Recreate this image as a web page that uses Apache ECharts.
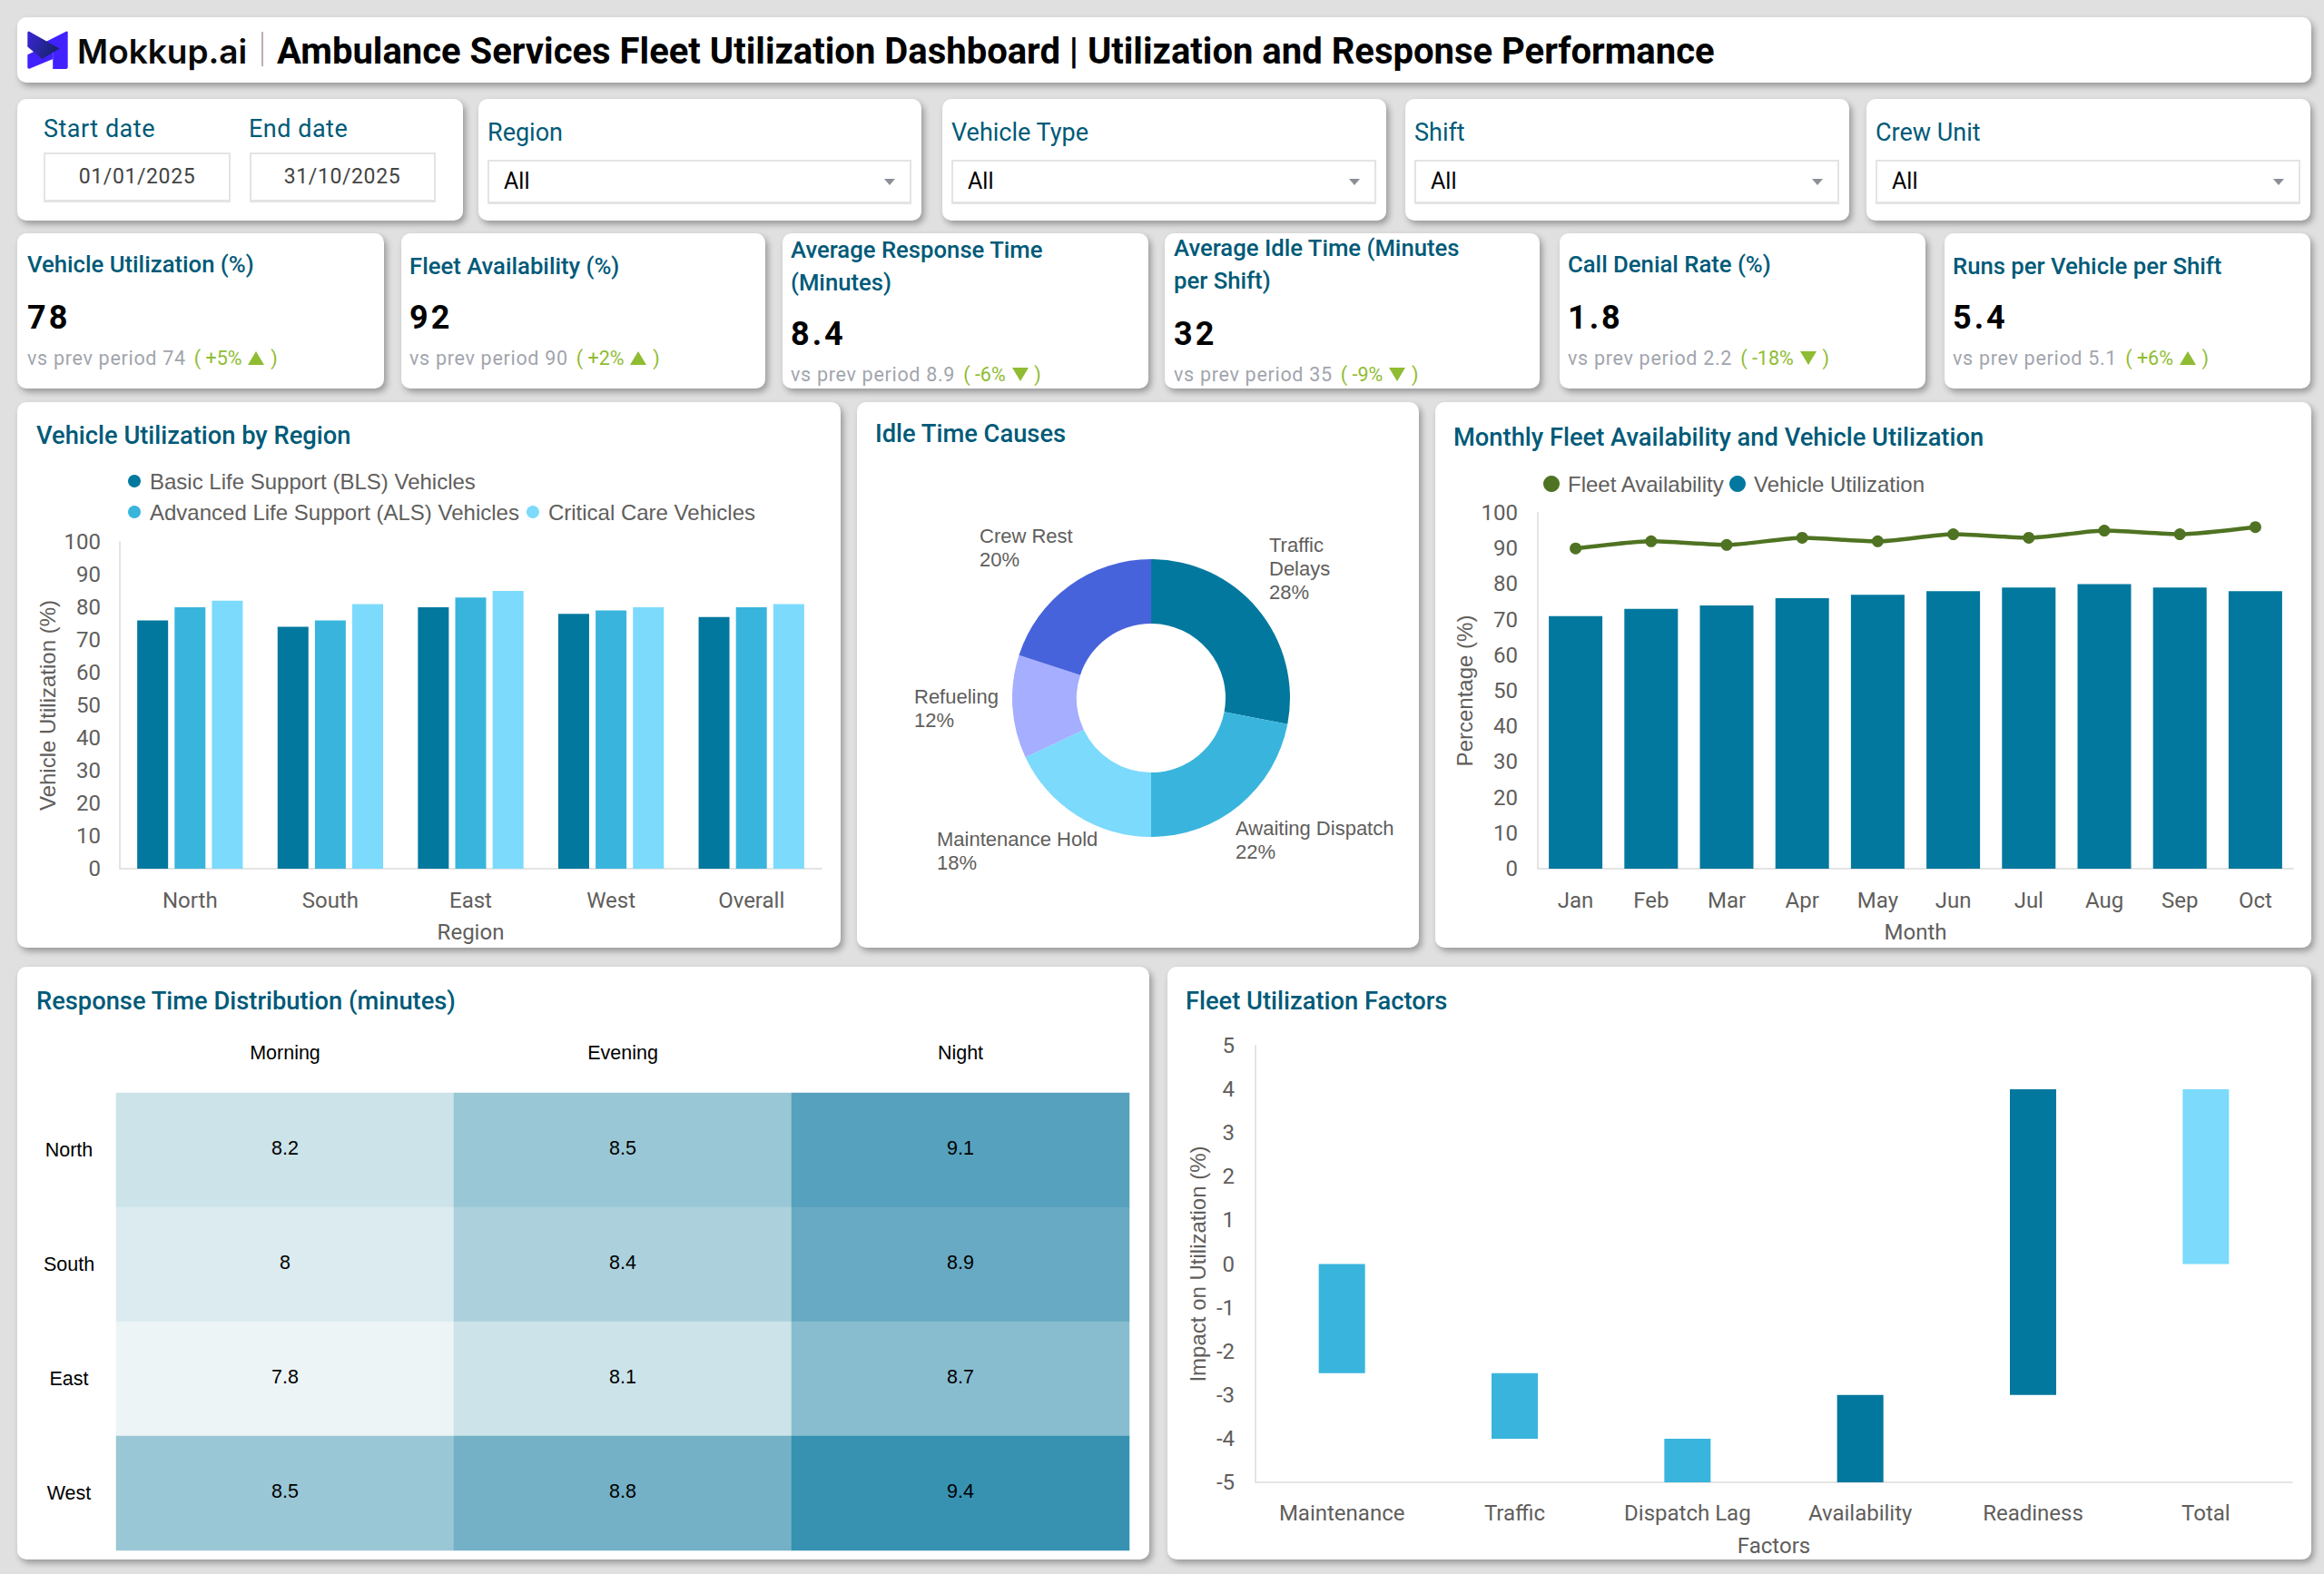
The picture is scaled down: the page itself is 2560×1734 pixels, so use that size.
<!DOCTYPE html>
<html>
<head>
<meta charset="utf-8">
<title>Ambulance Services Fleet Utilization Dashboard</title>
<script src="https://cdn.jsdelivr.net/npm/echarts@6/dist/echarts.min.js"></script>
<style>
  html, body { margin: 0; padding: 0; }
  body { width: 2560px; height: 1734px; background: #e0e0e0; overflow: hidden; position: relative; font-family: Roboto, sans-serif; }
  .card { position: absolute; background: #fff; border-radius: 10px; box-shadow: 3px 4px 7px rgba(0,0,0,.32); }
  .t { position: absolute; white-space: nowrap; transform: translateY(-50%); line-height: 1.2; }
  .title { color: #005a78; font-size: 27.3px; font-weight: 500; }
  .kpi-title { color: #005a78; font-size: 25.7px; font-weight: 500; }
  .kpi-value { color: #000; font-size: 36px; font-weight: 700; letter-spacing: 3px; }
  .kpi-sub { color: #a1a5ad; font-size: 21.5px; letter-spacing: .7px; }
  .kpi-sub b { color: #8fbc32; font-weight: 400; margin-left: 3px; letter-spacing: 0; }
  .tri { display: inline-block; width: 0; height: 0; margin: 0 1.5px; border-left: 9px solid transparent; border-right: 9px solid transparent; }
  .tri.up { border-bottom: 15px solid #8fbc32; }
  .tri.down { border-top: 15px solid #8fbc32; }
  .filter-label { color: #005a78; font-size: 27px; }
  .date-label { letter-spacing: .5px; }
  .box { position: absolute; box-sizing: border-box; background: #fff; border: 2px solid #e4e4e4; border-bottom-width: 3px; }
  .date-text { color: #444; font-size: 23px; letter-spacing: .6px; text-align: center; transform: translate(-50%,-50%); }
  .arrow { position: absolute; width: 0; height: 0; border-left: 6px solid transparent; border-right: 6px solid transparent; border-top: 7px solid #8b8f96; }
  .chart { position: absolute; }
</style>
</head>
<body>
<script>
// --- data ---
var filterNames = ['Region', 'Vehicle Type', 'Shift', 'Crew Unit'];
var startDate = '01/01/2025';
var endDate = '31/10/2025';

var kpiTitles = [
  ['Vehicle Utilization (%)'],
  ['Fleet Availability (%)'],
  ['Average Response Time', '(Minutes)'],
  ['Average Idle Time (Minutes', 'per Shift)'],
  ['Call Denial Rate (%)'],
  ['Runs per Vehicle per Shift']
];
var kpiValues = ['78', '92', '8.4', '32', '1.8', '5.4'];
var kpiPrev = ['74', '90', '8.9', '35', '2.2', '5.1'];
var kpiDelta = ['+5%', '+2%', '-6%', '-9%', '-18%', '+6%'];

var regions = ['North', 'South', 'East', 'West', 'Overall'];
var blsValues = [76, 74, 80, 78, 77];
var alsValues = [80, 76, 83, 79, 80];
var criticalValues = [82, 81, 85, 80, 81];

var idleCauses = ['Traffic Delays', 'Awaiting Dispatch', 'Maintenance Hold', 'Refueling', 'Crew Rest'];
var idleShares = [28, 22, 18, 12, 20];

var months = ['Jan', 'Feb', 'Mar', 'Apr', 'May', 'Jun', 'Jul', 'Aug', 'Sep', 'Oct'];
var fleetAvailability = [90, 92, 91, 93, 92, 94, 93, 95, 94, 96];
var vehicleUtilization = [71, 73, 74, 76, 77, 78, 79, 80, 79, 78];

var shifts = ['Morning', 'Evening', 'Night'];
var heatRegions = ['North', 'South', 'East', 'West'];
var morningTimes = [8.2, 8, 7.8, 8.5];
var eveningTimes = [8.5, 8.4, 8.1, 8.8];
var nightTimes = [9.1, 8.9, 8.7, 9.4];

var factors = ['Maintenance', 'Traffic', 'Dispatch Lag', 'Availability', 'Readiness', 'Total'];
var factorStart = [0, -2.5, -4, -3, -3, 0];
var factorEnd = [-2.5, -4, -5, -5, 4, 4];
var factorKinds = ['drop', 'drop', 'drop', 'gain', 'gain', 'total'];

// --- palette ---
var dark = '#03789e', mid = '#39b5dd', light = '#7cdafc', green = '#4f7322';
var textGrey = '#605e5c', axisGrey = '#e4e4e4';
var kindColors = { drop: mid, gain: dark, total: light };
var heatLevels = [7.8, 8, 8.1, 8.2, 8.4, 8.5, 8.7, 8.8, 8.9, 9.1, 9.4];
var heatColors = ['#ecf4f6', '#dcebef', '#cbe3e9', '#cbe3e9', '#acd1dd', '#9ac7d5', '#88bdd0', '#74b1c7', '#68aac3', '#56a1bd', '#3792b2'];

// --- page helpers ---
function card(x, y, w, h) {
  var el = document.createElement('div');
  el.className = 'card';
  el.style.cssText = 'left:' + (x + 1) + 'px;top:' + (y + 1) + 'px;width:' + (w - x - 1) + 'px;height:' + (h - y - 1) + 'px';
  document.body.appendChild(el);
}
function text(x, y, str, cls) {
  var el = document.createElement('div');
  el.className = 't ' + (cls || '');
  el.style.left = x + 'px';
  el.style.top = y + 'px';
  el.innerHTML = str;
  document.body.appendChild(el);
  return el;
}
function box(x, y, x2, y2) {
  var el = document.createElement('div');
  el.className = 'box';
  el.style.cssText = 'left:' + x + 'px;top:' + y + 'px;width:' + (x2 - x) + 'px;height:' + (y2 - y) + 'px';
  document.body.appendChild(el);
}
function chartBox(x, y, w, h) {
  var el = document.createElement('div');
  el.className = 'chart';
  el.style.cssText = 'left:' + x + 'px;top:' + y + 'px;width:' + w + 'px;height:' + h + 'px';
  document.body.appendChild(el);
  return echarts.init(el, null, { renderer: 'svg' });
}

// --- header ---
card(18, 18, 2546, 91);
var logo = document.createElement('div');
logo.style.cssText = 'position:absolute;left:30px;top:34px;width:45px;height:42px';
logo.innerHTML = '<svg width="45" height="42" viewBox="0 0 132 125"><defs><linearGradient id="lg" x1="0" y1="0" x2="1" y2="0.3"><stop offset="0" stop-color="#3b25d6"/><stop offset="1" stop-color="#16246e"/></linearGradient></defs>' +
  '<path d="M132 4 Q132 0 126 2 L60 36 L83 52 L83 125 L126 125 Q132 125 132 119 Z" fill="#4221ff"/>' +
  '<path d="M0 78 L60 50 L83 66 L83 92 L6 124 Q0 125 0 119 Z" fill="#4221ff"/>' +
  '<path d="M0 6 Q0 0 6 2 L105 58 L48 92 L0 52 Z" fill="url(#lg)"/></svg>';
document.body.appendChild(logo);
text(85, 56, 'Mokkup.ai', '').style.cssText += ';font:600 37px Inter,Roboto,sans-serif;color:#0a0a0a';
var sep = document.createElement('div');
sep.style.cssText = 'position:absolute;left:288px;top:35px;width:2px;height:38px;background:#b9aeb0';
document.body.appendChild(sep);
text(305, 56, 'Ambulance Services Fleet Utilization Dashboard | Utilization and Response Performance', '').style.cssText += ';font:700 40px Roboto,sans-serif;color:#000';

// --- filters ---
card(18, 108, 510, 243);
text(48, 142, 'Start date', 'filter-label date-label');
text(274, 142, 'End date', 'filter-label date-label');
box(48, 168, 254, 223);
box(275, 168, 480, 223);
text(151, 195, startDate, 'date-text');
text(377, 195, endDate, 'date-text');

var filterCards = [[526, 1015], [1037, 1527], [1547, 2037], [2055, 2545]];
filterNames.forEach(function (name, i) {
  var c = filterCards[i];
  card(c[0], 108, c[1], 243);
  text(c[0] + 11, 146, name, 'filter-label');
  box(c[0] + 11, 176, c[1] - 11, 225);
  text(c[0] + 29, 200, 'All', '').style.cssText += ';font-size:25px;color:#000';
  var a = document.createElement('div');
  a.className = 'arrow';
  a.style.left = (c[1] - 41) + 'px';
  a.style.top = '197px';
  document.body.appendChild(a);
});

// --- KPI cards ---
var kpiCards = [[18, 423], [441, 843], [861, 1265], [1282, 1696], [1717, 2121], [2141, 2545]];
var kpiTitleY = [[291], [293], [275, 311], [273, 309], [291], [293]];
kpiValues.forEach(function (val, i) {
  var c = kpiCards[i];
  var twoLines = kpiTitles[i].length > 1;
  var tx = c[0] + (i === 3 ? 11 : i === 0 ? 12 : 10);
  card(c[0], 256, c[1], 428);
  kpiTitles[i].forEach(function (line, j) {
    text(tx, kpiTitleY[i][j], line, 'kpi-title');
  });
  text(tx, twoLines ? 369 : 351, val, 'kpi-value');
  var dir = kpiDelta[i].charAt(0) === '+' ? 'up' : 'down';
  text(tx, twoLines ? 413 : 395,
    'vs prev period ' + kpiPrev[i] + ' <b>( ' + kpiDelta[i] + ' <span class="tri ' + dir + '"></span> )</b>', 'kpi-sub');
});

// --- chart cards ---
card(18, 442, 926, 1044);
card(943, 442, 1563, 1044);
card(1580, 442, 2546, 1044);
card(18, 1064, 1266, 1718);
card(1285, 1064, 2546, 1718);

var tickFont = { color: textGrey, fontSize: 24, fontFamily: 'Roboto' };
var nameFont = { color: textGrey, fontSize: 24, fontFamily: 'Liberation Sans' };
var legendFont = { color: textGrey, fontSize: 24, fontFamily: 'Liberation Sans' };
var axisLine = { show: true, lineStyle: { color: axisGrey, width: 2 } };

// --- Chart 1: Vehicle Utilization by Region ---
var chart1 = chartBox(18, 442, 908, 602);
function regionBar(name, data, color) {
  return { name: name, type: 'bar', data: data, barWidth: 34, barGap: '21%', itemStyle: { color: color } };
}
chart1.setOption({
  animation: false,
  grid: { left: 114, right: 21, top: 155, bottom: 87, outerBoundsMode: 'none' },
  legend: {
    left: 118, top: 70, width: 720, icon: 'circle', itemWidth: 24, itemHeight: 14, itemGap: 8,
    textStyle: Object.assign({ lineHeight: 26 }, legendFont)
  },
  xAxis: {
    type: 'category', data: regions, axisLine: axisLine, axisTick: { show: false },
    axisLabel: Object.assign({ margin: 23 }, tickFont),
    name: 'Region', nameLocation: 'middle', nameGap: 58, nameMoveOverlap: false, nameTextStyle: tickFont
  },
  yAxis: {
    type: 'value', min: 0, max: 100, interval: 10, axisLine: axisLine, axisTick: { show: false },
    splitLine: { show: false }, axisLabel: Object.assign({ margin: 21 }, tickFont),
    name: 'Vehicle Utilization (%)', nameLocation: 'middle', nameGap: 68, nameMoveOverlap: false, nameTextStyle: nameFont
  },
  series: [
    regionBar('Basic Life Support (BLS) Vehicles', blsValues, dark),
    regionBar('Advanced Life Support (ALS) Vehicles', alsValues, mid),
    regionBar('Critical Care Vehicles', criticalValues, light)
  ]
});

// --- Chart 2: Idle Time Causes ---
var chart2 = chartBox(943, 442, 620, 602);
var pieColors = [dark, mid, light, '#a5aeff', '#4763db'];
var pieLabelSpots = [[455, 184], [418, 483], [89, 495], [64, 338], [136, 161]];
chart2.setOption({
  animation: false,
  series: [{
    type: 'pie',
    center: [325, 327],
    radius: [82, 153],
    startAngle: 90,
    clockwise: true,
    data: idleCauses.map(function (name, i) {
      return {
        name: name, value: idleShares[i], itemStyle: { color: pieColors[i] },
        label: i === 0 ? { width: 110, overflow: 'break' } : { width: 200 }
      };
    }),
    label: {
      formatter: function (p) { return p.name + '\n' + p.value + '%'; },
      color: textGrey, fontSize: 22, lineHeight: 26, fontFamily: 'Liberation Sans', align: 'left'
    },
    labelLine: { show: false },
    labelLayout: function (p) {
      var s = pieLabelSpots[p.dataIndex];
      return { x: s[0], y: s[1], align: 'left', verticalAlign: 'middle' };
    }
  }]
});

// --- Chart 3: Monthly Fleet Availability and Vehicle Utilization ---
var chart3 = chartBox(1580, 442, 966, 602);
chart3.setOption({
  animation: false,
  grid: { left: 114, right: 20, top: 123, bottom: 87, outerBoundsMode: 'none' },
  legend: {
    left: 115, top: 74, data: ['Fleet Availability', 'Vehicle Utilization'], icon: 'circle',
    itemWidth: 26, itemHeight: 18, itemGap: 5,
    textStyle: legendFont
  },
  xAxis: {
    type: 'category', data: months, axisLine: axisLine, axisTick: { show: false },
    axisLabel: Object.assign({ margin: 23, interval: 0 }, tickFont),
    name: 'Month', nameLocation: 'middle', nameGap: 58, nameMoveOverlap: false, nameTextStyle: tickFont
  },
  yAxis: {
    type: 'value', min: 0, max: 100, interval: 10, axisLine: axisLine, axisTick: { show: false },
    splitLine: { show: false }, axisLabel: Object.assign({ margin: 22 }, tickFont),
    name: 'Percentage (%)', nameLocation: 'middle', nameGap: 69, nameMoveOverlap: false, nameTextStyle: nameFont
  },
  series: [
    { name: 'Vehicle Utilization', type: 'bar', data: vehicleUtilization, barWidth: 59, itemStyle: { color: dark } },
    {
      name: 'Fleet Availability', type: 'line', data: fleetAvailability, smooth: 0.2,
      symbol: 'circle', symbolSize: 13, lineStyle: { color: green, width: 4.5 }, itemStyle: { color: green }
    }
  ]
});

// --- Chart 4: Response Time Distribution ---
var chart4 = chartBox(18, 1064, 1248, 654);
var heatData = [];
[morningTimes, eveningTimes, nightTimes].forEach(function (col, x) {
  col.forEach(function (v, y) { heatData.push([x, y, v]); });
});
var heatFont = { color: '#000', fontSize: 21.5, fontFamily: 'Liberation Sans' };
chart4.setOption({
  animation: false,
  grid: { left: 110, right: 22, top: 140, bottom: 10, outerBoundsMode: 'none' },
  visualMap: {
    show: false, type: 'piecewise', dimension: 2,
    pieces: heatLevels.map(function (v, i) { return { value: v, color: heatColors[i] }; })
  },
  xAxis: {
    type: 'category', position: 'top', data: shifts, axisLine: { show: false }, axisTick: { show: false },
    splitArea: { show: false }, axisLabel: Object.assign({ margin: 33 }, heatFont)
  },
  yAxis: {
    type: 'category', inverse: true, data: heatRegions, axisLine: { show: false }, axisTick: { show: false },
    splitArea: { show: false }, axisLabel: Object.assign({ margin: 52, align: 'center' }, heatFont)
  },
  series: [{
    type: 'heatmap', data: heatData,
    label: Object.assign({ show: true, offset: [0, -2], formatter: function (p) { return p.value[2]; } }, heatFont)
  }]
});

// --- Chart 5: Fleet Utilization Factors (floating bars) ---
var chart5 = chartBox(1285, 1064, 1261, 654);
chart5.setOption({
  animation: false,
  grid: { left: 98, right: 21, top: 88, bottom: 85, outerBoundsMode: 'none' },
  xAxis: {
    type: 'category', data: factors, axisLine: { show: true, onZero: false, lineStyle: { color: axisGrey, width: 2 } },
    axisTick: { show: false }, axisLabel: Object.assign({ margin: 22, interval: 0 }, tickFont),
    name: 'Factors', nameLocation: 'middle', nameGap: 58, nameMoveOverlap: false, nameTextStyle: tickFont
  },
  yAxis: {
    type: 'value', min: -5, max: 5, interval: 1, axisLine: axisLine, axisTick: { show: false },
    splitLine: { show: false }, axisLabel: Object.assign({ margin: 23 }, tickFont),
    name: 'Impact on Utilization (%)', nameLocation: 'middle', nameGap: 52, nameMoveOverlap: false, nameTextStyle: nameFont
  },
  series: [{
    type: 'custom',
    data: factors.map(function (f, i) { return [i, factorStart[i], factorEnd[i]]; }),
    encode: { x: 0, y: [1, 2] },
    renderItem: function (params, api) {
      var a = api.coord([api.value(0), api.value(1)]);
      var b = api.coord([api.value(0), api.value(2)]);
      return {
        type: 'rect',
        shape: { x: a[0] - 25.5, y: Math.min(a[1], b[1]), width: 51, height: Math.abs(a[1] - b[1]) },
        style: { fill: kindColors[factorKinds[api.value(0)]] }
      };
    }
  }]
});

// --- card titles ---
text(40, 480, 'Vehicle Utilization by Region', 'title');
text(964, 478, 'Idle Time Causes', 'title');
text(1601, 482, 'Monthly Fleet Availability and Vehicle Utilization', 'title');
text(40, 1103, 'Response Time Distribution (minutes)', 'title');
text(1306, 1103, 'Fleet Utilization Factors', 'title');
</script>
</body>
</html>
